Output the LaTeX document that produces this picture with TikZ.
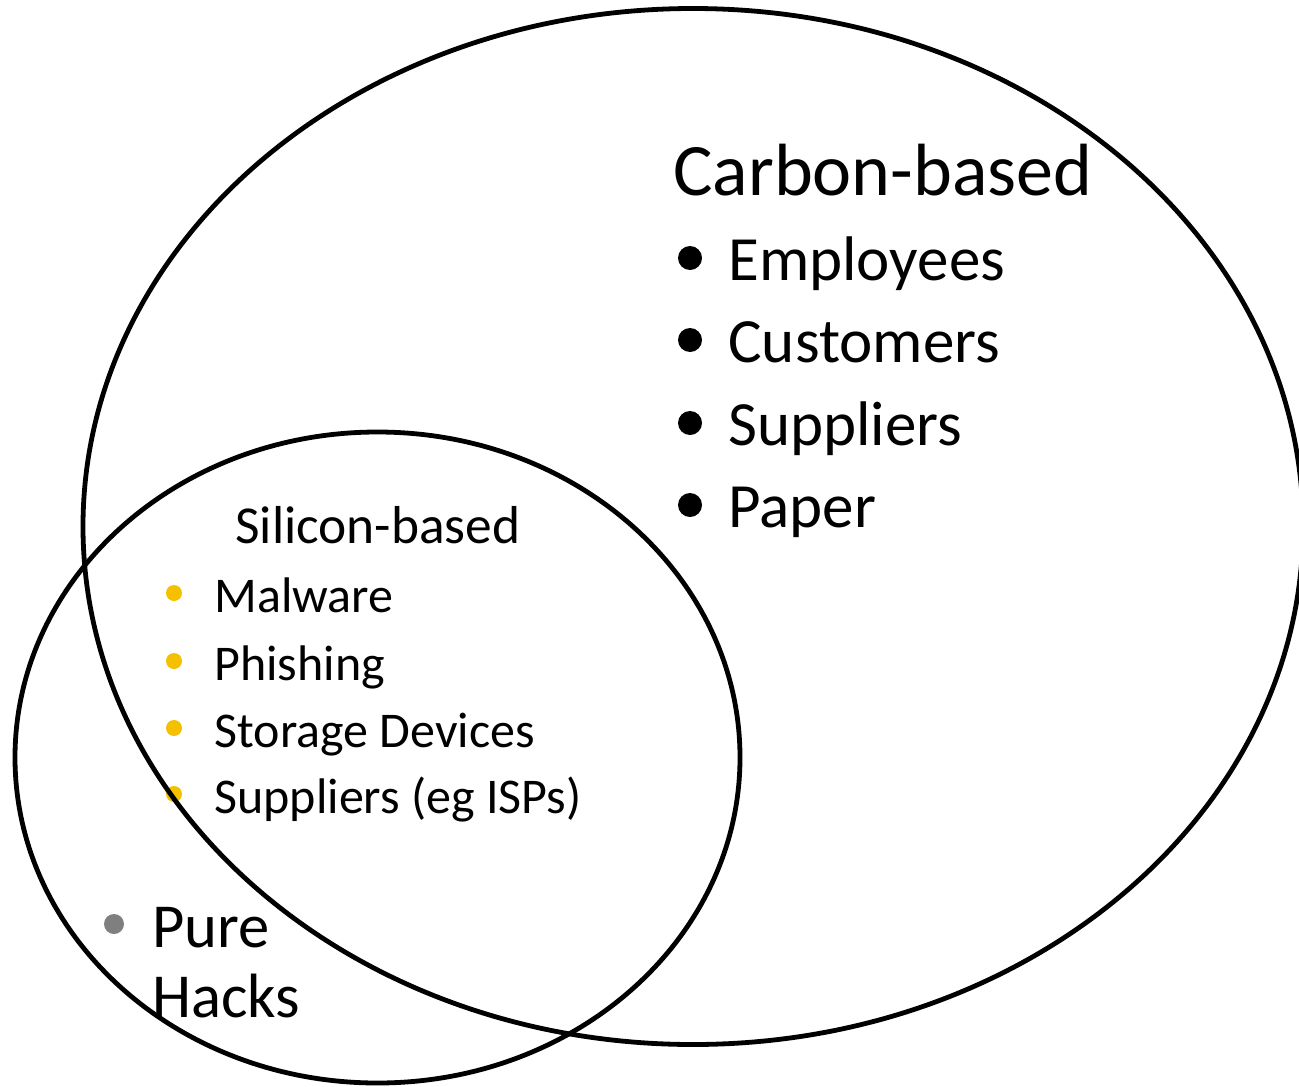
\documentclass[tikz,border=0pt]{standalone}
\usepackage{fontspec}
\setmainfont{Carlito}
\definecolor{bulletgold}{rgb}{0.961,0.753,0}
\definecolor{bulletgray}{rgb}{0.498,0.498,0.498}
\tikzset{
  item/.style={anchor=base west,inner sep=0pt},
  setline/.style={line width=2.4pt}
}
\begin{document}
\begin{tikzpicture}[x=0.5pt,y=-0.5pt]
			\useasboundingbox (0,0) rectangle (1299,1086);
			\def\big{\fontsize{37}{44}\selectfont}
			\def\mid{\fontsize{31.5}{38}\selectfont}
			\def\small{\fontsize{25}{30}\selectfont}
			% carbon-based list
			\node[item,font=\big] (carbon) at (673,195) {Carbon-based};
			\foreach \y/\name/\txt in {280/emp/Employees,362/cust/Customers,445/supp/Suppliers,527/paper/Paper}
			{
				\fill ({690},{\y-22}) circle[radius=6pt];
				\node[item,font=\mid] (\name) at (728,\y) {\txt};
			}
			% silicon-based list
			\node[anchor=base,inner sep=0pt,font=\fontsize{26.7}{32}\selectfont] (silicon) at (378,543) {Silicon-based};
			\foreach \y/\name/\txt in {612/mal/Malware,680/phish/Phishing,747/stor/Storage Devices,813/isp/Suppliers (eg ISPs)}
			{
				\fill[bulletgold] ({174},{\y-19}) circle[radius=4pt];
				\node[item,font=\small] (\name) at (214,\y) {\txt};
			}
			% pure hacks
			\fill[bulletgray] (114,924) circle[radius=5pt];
			\node[item,font=\fontsize{31.3}{35}\selectfont] (pure) at (152,947) {Pure};
			\node[item,font=\fontsize{31.3}{35}\selectfont] (hacks) at (152,1017) {Hacks};
			% the two sets
			\draw[setline] (693,526.5) ellipse[x radius=305pt,y radius=259pt];
			\draw[setline] (377.5,757.5) ellipse[x radius=181.25pt,y radius=162.75pt];
		\end{tikzpicture}
\end{document}
